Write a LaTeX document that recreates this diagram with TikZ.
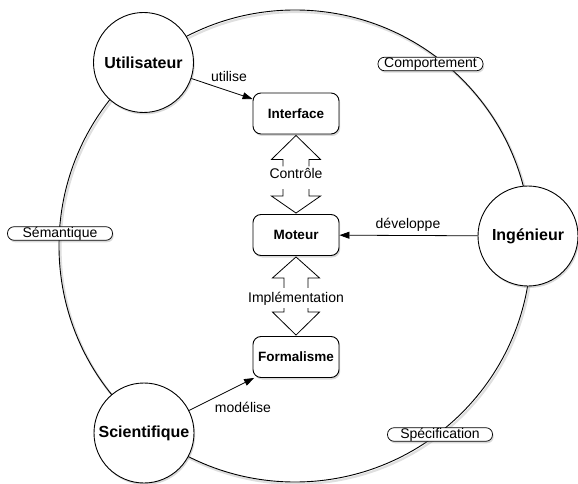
\documentclass[tikz,border=0pt]{standalone}
\usepackage{fontspec}
\setmainfont{Liberation Sans}
\usetikzlibrary{arrows.meta,shadows,calc}
\begin{document}
\begin{tikzpicture}[x=1pt,y=-1pt,
  shad/.style={drop shadow={opacity=0.3,shadow xshift=1.2pt,shadow yshift=-2pt}},
  actor/.style={circle,draw,line width=0.9pt,fill=white,minimum size=100pt,inner sep=0pt,
    font=\fontsize{16}{19}\selectfont\bfseries,shad},
  comp/.style={draw,rounded corners=8pt,fill=white,minimum width=86pt,minimum height=41pt,
    inner sep=0pt,font=\fontsize{13.5}{16}\selectfont\bfseries,line width=0.9pt,shad},
  pill/.style={draw,rounded corners=6.5pt,fill=white,minimum width=105pt,minimum height=13.5pt,
    inner sep=0pt,font=\fontsize{14}{16}\selectfont,line width=0.7pt,shad},
  lbl/.style={font=\fontsize{14}{16}\selectfont,inner sep=0pt},
  link/.style={-{Triangle[length=10pt,width=7pt]},line width=0.8pt},
  hollow/.style={line width=0.8pt,line join=miter}]
\useasboundingbox (0,0) rectangle (578,484);
% big cycle
\draw[gray,opacity=0.25,line width=2.2pt] (296.5,248) circle[radius=236];
\draw[line width=0.9pt] (295,246) circle[radius=236];
% pills on the cycle
\node[pill] (sem) at (60,233.5) {Sémantique};
\node[pill] (comport) at (430.5,64) {Comportement};
\node[pill] (spec) at (440,434.5) {Spécification};
% actors
\node[actor] (user) at (143.5,62.5) {Utilisateur};
\node[actor] (eng) at (528,236) {Ingénieur};
\node[actor] (sci) at (144,433) {Scientifique};
% components
\node[comp] (iface) at (296,113.5) {Interface};
\node[comp] (mot) at (296,235) {Moteur};
\node[comp] (form) at (296,357) {Formalisme};
% links
\draw[link] (user) -- (iface);
\draw[link] (eng) -- (mot);
\draw[link] (sci) -- (form);
\node[lbl,anchor=base] (lu) at (229,82) {utilise};
\node[lbl,anchor=base] (ld) at (408,228) {développe};
\node[lbl,anchor=base] (lm) at (243,412) {modélise};
% hollow double arrows
\coordinate (c1) at ($(iface.south)+(0,1)$);
\coordinate (c2) at ($(mot.north)+(0,-1)$);
\coordinate (c3) at ($(mot.south)+(0,1)$);
\coordinate (c4) at ($(form.north)+(0,-1)$);
\begin{scope}[shift={(c1)}]
\draw[hollow] (-13,31) -- (-13,24) -- (-24.5,24) -- (0,0) -- (24.5,24) -- (13,24) -- (13,31);
\end{scope}
\begin{scope}[shift={(c2)}]
\draw[hollow] (-13,-24) -- (-13,-17) -- (-24.5,-17) -- (0,0) -- (24.5,-17) -- (13,-17) -- (13,-24);
\end{scope}
\begin{scope}[shift={(c3)}]
\draw[hollow] (-12,31) -- (-12,21) -- (-23.5,21) -- (0,0) -- (23.5,21) -- (12,21) -- (12,31);
\end{scope}
\begin{scope}[shift={(c4)}]
\draw[hollow] (-12,-27) -- (-12,-23) -- (-23.5,-23) -- (0,0) -- (23.5,-23) -- (12,-23) -- (12,-27);
\end{scope}
\node[lbl,anchor=base] (lc) at (296,178) {Contrôle};
\node[lbl,anchor=base] (li) at (296,302) {Implémentation};
\end{tikzpicture}
\end{document}
